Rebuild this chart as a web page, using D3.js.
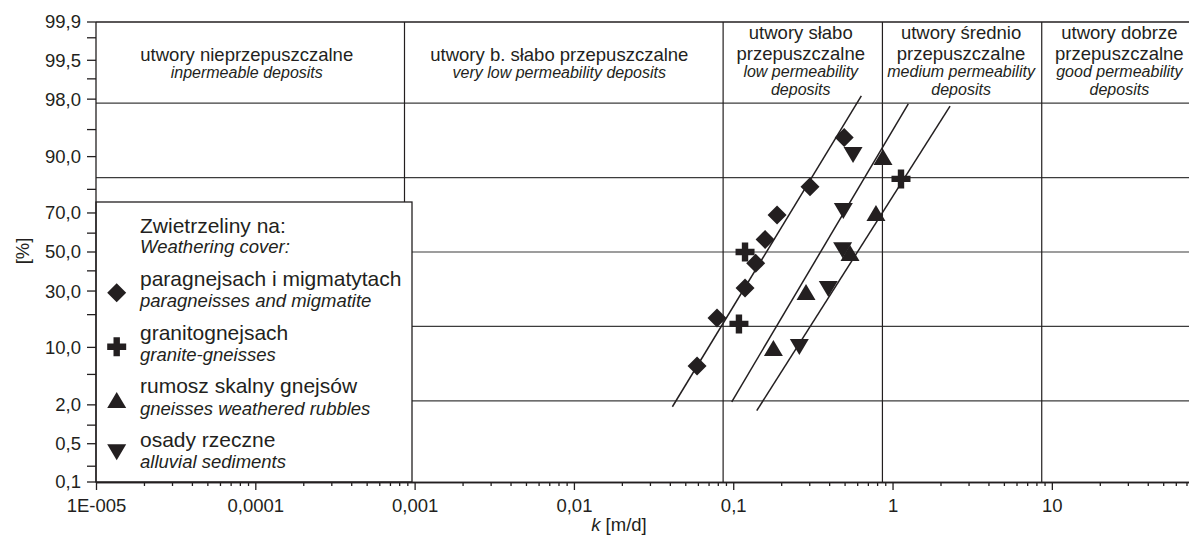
<!DOCTYPE html>
<html><head><meta charset="utf-8">
<script src="https://cdn.jsdelivr.net/npm/d3@7"></script>
<style>
body{margin:0;background:#fff;}
svg text{font-family:"Liberation Sans", Arial, Helvetica, sans-serif; fill:#231f20;}
</style></head>
<body><svg id="c" width="1189" height="541"></svg>
<script>
// ---------- data ----------
const xTickValues = [1e-5, 1e-4, 1e-3, 1e-2, 1e-1, 1, 10];
const xTickLabels = ["1E-005", "0,0001", "0,001", "0,01", "0,1", "1", "10"];
const yTickValues = [0.1, 0.5, 2, 10, 30, 50, 70, 90, 98, 99.5, 99.9];
const yTickLabels = ["0,1", "0,5", "2,0", "10,0", "30,0", "50,0", "70,0", "90,0", "98,0", "99,5", "99,9"];
const yMinorTicks = [0.2, 1, 5, 20, 40, 60, 80, 95, 99, 99.8];
const classBounds = [0.000864, 0.0864, 0.864, 8.64];      // k [m/d]
const gridPct = [2.275, 15.866, 50, 84.134, 97.725];       // horizontal grid lines [%]
const classNamesPl = [["utwory nieprzepuszczalne"], ["utwory b. słabo przepuszczalne"], ["utwory słabo", "przepuszczalne"], ["utwory średnio", "przepuszczalne"], ["utwory dobrze", "przepuszczalne"]];
const classNamesEn = [["inpermeable deposits"], ["very low permeability deposits"], ["low permeability", "deposits"], ["medium permeability", "deposits"], ["good permeability", "deposits"]];

const paragneissK = [0.0593, 0.0791, 0.1186, 0.1383, 0.1585, 0.1884, 0.3034, 0.497];
const paragneissP = [6.3, 18.8, 31.4, 44, 56.7, 69, 81, 93.8];
const graniteK = [0.1086, 0.1186, 1.13];
const graniteP = [16.7, 50, 83.7];
const rubbleK = [0.1787, 0.2864, 0.541, 0.787, 0.871];
const rubbleP = [9.85, 29.5, 49.5, 70, 89.9];
const alluvialK = [0.260, 0.395, 0.486, 0.491, 0.565];
const alluvialP = [10.1, 31, 51, 70.9, 90.4];

const fitLineK = [[0.0415, 0.637], [0.0979, 1.256], [0.1405, 2.296]];
const fitLineP = [[1.88, 98.2], [2.21, 97.67], [1.65, 97.5]];

const legendPl = ["paragnejsach i migmatytach", "granitognejsach", "rumosz skalny gnejsów", "osady rzeczne"];
const legendEn = ["paragneisses and migmatite", "granite-gneisses", "gneisses weathered rubbles", "alluvial sediments"];

// ---------- helpers ----------
function invNorm(p){
  const a=[-3.969683028665376e+01,2.209460984245205e+02,-2.759285104469687e+02,1.383577518672690e+02,-3.066479806614716e+01,2.506628277459239e+00];
  const b=[-5.447609879822406e+01,1.615858368580409e+02,-1.556989798598866e+02,6.680131188771972e+01,-1.328068155288572e+01];
  const c=[-7.784894002430293e-03,-3.223964580411365e-01,-2.400758277161838e+00,-2.549732539343734e+00,4.374664141464968e+00,2.938163982698783e+00];
  const d=[7.784695709041462e-03,3.224671290700398e-01,2.445134137142996e+00,3.754408661907416e+00];
  const pl=0.02425, ph=1-pl; let q,r;
  if(p<pl){q=Math.sqrt(-2*Math.log(p));return (((((c[0]*q+c[1])*q+c[2])*q+c[3])*q+c[4])*q+c[5])/((((d[0]*q+d[1])*q+d[2])*q+d[3])*q+1);}
  if(p<=ph){q=p-0.5;r=q*q;return (((((a[0]*r+a[1])*r+a[2])*r+a[3])*r+a[4])*r+a[5])*q/(((((b[0]*r+b[1])*r+b[2])*r+b[3])*r+b[4])*r+1);}
  q=Math.sqrt(-2*Math.log(1-p));return -(((((c[0]*q+c[1])*q+c[2])*q+c[3])*q+c[4])*q+c[5])/((((d[0]*q+d[1])*q+d[2])*q+d[3])*q+1);
}

const L = 96, R = 1189, T = 22, B = 482;
const INK = "#231f20", GRID = "#3c3c3c";
const x = d3.scaleLog().domain([1e-5, 72.6]).range([L, R]);
const zScale = d3.scaleLinear().domain([invNorm(0.001), invNorm(0.999)]).range([B, T]);
const y = p => zScale(invNorm(p / 100));

const svg = d3.select("#c");

// ---------- grid ----------
const g = svg.append("g");
g.selectAll("line.h").data(gridPct).join("line")
  .attr("x1", L).attr("x2", R).attr("y1", d => y(d)).attr("y2", d => y(d))
  .attr("stroke", GRID).attr("stroke-width", 1.2);
g.selectAll("line.v").data(classBounds).join("line")
  .attr("x1", d => x(d)).attr("x2", d => x(d)).attr("y1", T).attr("y2", B)
  .attr("stroke", INK).attr("stroke-width", 1.2);
g.append("line").attr("x1", L).attr("x2", R).attr("y1", T).attr("y2", T)
  .attr("stroke", INK).attr("stroke-width", 1.3);

// ---------- header texts ----------
const bPx = [L, ...classBounds.map(x), R];
const centerAdj = [-3.5, -4.5, -2, -1, 4];
classNamesPl.forEach((pl, i) => {
  const cx = (bPx[i] + bPx[i + 1]) / 2 + centerAdj[i];
  const en = classNamesEn[i];
  const ys = pl.length === 1 ? [61] : [38.5, 60];
  const ye = en.length === 1 ? [77.5] : [77, 94.5];
  pl.forEach((t, j) => svg.append("text").attr("x", cx).attr("y", ys[j]).attr("text-anchor", "middle")
    .attr("font-size", 18.5).text(t));
  en.forEach((t, j) => svg.append("text").attr("x", cx).attr("y", ye[j]).attr("text-anchor", "middle")
    .attr("font-size", 16).attr("font-style", "italic").text(t));
});

// ---------- fit lines ----------
const lineGen = d3.line().x(d => x(d[0])).y(d => y(d[1]));
fitLineK.forEach((ks, i) => {
  svg.append("path").datum(ks.map((k, j) => [k, fitLineP[i][j]]))
    .attr("d", lineGen).attr("fill", "none").attr("stroke", INK).attr("stroke-width", 1.5);
});

// ---------- symbols ----------
const diamond = {draw(ctx){const r=9.5; ctx.moveTo(0,-r);ctx.lineTo(r,0);ctx.lineTo(0,r);ctx.lineTo(-r,0);ctx.closePath();}};
const triUp = {draw(ctx){const w=9.5,h=8; ctx.moveTo(0,-h);ctx.lineTo(w,h);ctx.lineTo(-w,h);ctx.closePath();}};
const triDown = {draw(ctx){const w=9.5,h=8; ctx.moveTo(0,h);ctx.lineTo(w,-h);ctx.lineTo(-w,-h);ctx.closePath();}};
const cross = {draw(ctx){const a=9.5,t=3.2;
  ctx.moveTo(-t,-a);ctx.lineTo(t,-a);ctx.lineTo(t,-t);ctx.lineTo(a,-t);ctx.lineTo(a,t);ctx.lineTo(t,t);
  ctx.lineTo(t,a);ctx.lineTo(-t,a);ctx.lineTo(-t,t);ctx.lineTo(-a,t);ctx.lineTo(-a,-t);ctx.lineTo(-t,-t);ctx.closePath();}};
const symbols = [diamond, cross, triUp, triDown];

const series = [[paragneissK, paragneissP], [graniteK, graniteP], [rubbleK, rubbleP], [alluvialK, alluvialP]];
series.forEach(([ks, ps], i) => {
  svg.append("g").selectAll("path").data(ks.map((k, j) => [k, ps[j]])).join("path")
    .attr("transform", d => `translate(${x(d[0])},${y(d[1])})`)
    .attr("d", d3.symbol().type(symbols[i])())
    .attr("fill", INK);
});

// ---------- legend ----------
const lg = svg.append("g");
lg.append("rect").attr("x", L).attr("y", 202).attr("width", 316).attr("height", B - 202)
  .attr("fill", "#fff").attr("stroke", INK).attr("stroke-width", 1.3);
lg.append("text").attr("x", 140).attr("y", 232.7).attr("font-size", 21).text("Zwietrzeliny na:");
lg.append("text").attr("x", 140).attr("y", 253.3).attr("font-size", 18.5).attr("font-style", "italic").text("Weathering cover:");
const legY = [286, 340, 393.3, 446.7];
const legMarkY = [292.7, 346.7, 400, 452.3];
legendPl.forEach((t, i) => {
  lg.append("path").attr("transform", `translate(116.7,${legMarkY[i]})`)
    .attr("d", d3.symbol().type(symbols[i])()).attr("fill", INK);
  lg.append("text").attr("x", 140).attr("y", legY[i]).attr("font-size", 21).text(t);
  lg.append("text").attr("x", 140).attr("y", legY[i] + 21.3).attr("font-size", 18.5)
    .attr("font-style", "italic").text(legendEn[i]);
});

// ---------- x axis ----------
const minorX = [];
for (let e = -5; e <= 1; e++) for (let m = 2; m <= 9; m++) { const v = m * Math.pow(10, e); if (v <= 72.6) minorX.push(v); }
const axMinor = svg.append("g").attr("transform", `translate(0,${B})`)
  .call(d3.axisBottom(x).tickValues(minorX).tickFormat("").tickSize(4).tickSizeOuter(0));
const axMajor = svg.append("g").attr("transform", `translate(0,${B})`)
  .call(d3.axisBottom(x).tickValues(xTickValues).tickFormat((d, i) => xTickLabels[i]).tickSize(8).tickSizeOuter(0).tickPadding(8.5));
[axMinor, axMajor].forEach(a => {
  a.selectAll("path,line").attr("stroke", INK).attr("stroke-width", 1.3);
  a.selectAll("text").attr("font-size", 18.5).attr("fill", INK)
    .attr("font-family", '"Liberation Sans", Arial, sans-serif');
});

// ---------- y axis ----------
const ya = svg.append("g");
ya.append("line").attr("x1", L).attr("x2", L).attr("y1", T).attr("y2", B).attr("stroke", INK).attr("stroke-width", 1.3);
ya.selectAll("line.mi").data(yMinorTicks.concat(yTickValues)).join("line")
  .attr("x1", L - 9).attr("x2", L).attr("y1", d => y(d)).attr("y2", d => y(d))
  .attr("stroke", INK).attr("stroke-width", 1.3);
ya.selectAll("text").data(yTickValues).join("text")
  .attr("x", 81).attr("y", d => y(d)).attr("dy", "0.35em").attr("text-anchor", "end")
  .attr("font-size", 18.5).text((d, i) => yTickLabels[i]);

// ---------- axis titles ----------
svg.append("text").attr("transform", "translate(23,251) rotate(-90)").attr("text-anchor", "middle")
  .attr("dy", "0.35em").attr("font-size", 18.5).text("[%]");
const xt = svg.append("text").attr("x", 619).attr("y", 531).attr("text-anchor", "middle").attr("font-size", 18.5);
xt.append("tspan").attr("font-style", "italic").text("k");
xt.append("tspan").text(" [m/d]");
</script>
</body></html>
